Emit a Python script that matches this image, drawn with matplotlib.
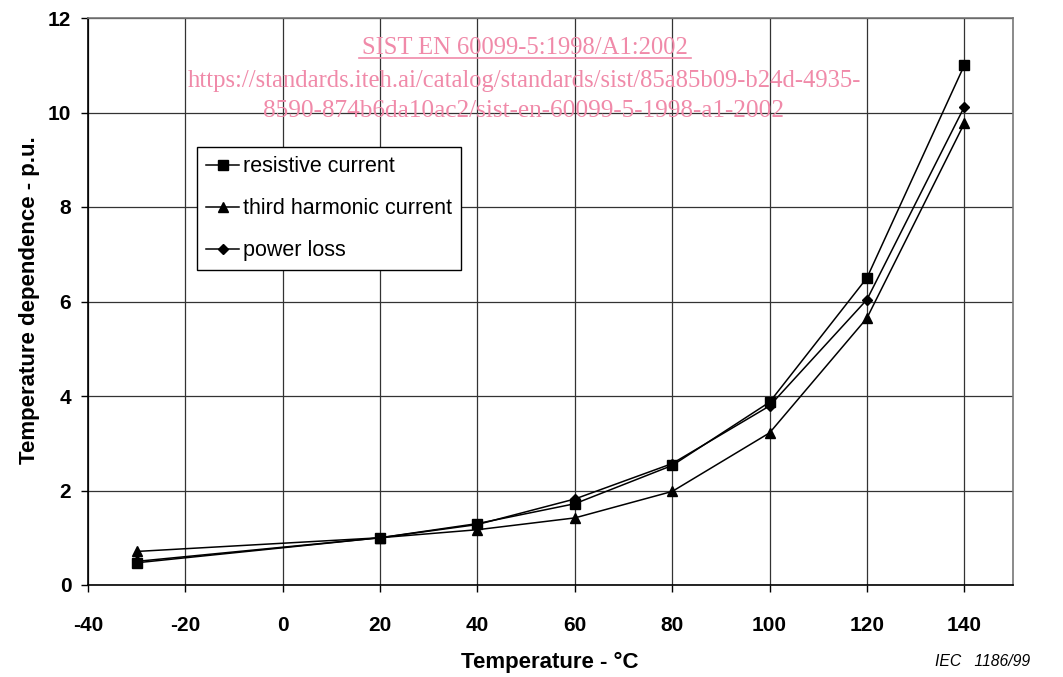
import matplotlib
matplotlib.use("Agg")
import matplotlib.pyplot as plt

temps = [-30, 20, 40, 60, 80, 100, 120, 140]
resistive = [0.47, 1.0, 1.30, 1.72, 2.53, 3.87, 6.50, 11.00]
third_harm = [0.71, 1.0, 1.17, 1.42, 1.98, 3.22, 5.65, 9.77]
power_loss = [0.50, 1.0, 1.28, 1.82, 2.57, 3.79, 6.04, 10.12]

x_ticks = [-40, -20, 0, 20, 40, 60, 80, 100, 120, 140]
y_ticks = [0, 2, 4, 6, 8, 10, 12]

plt.rcParams['font.family'] = ['Liberation Sans', 'DejaVu Sans']
plt.rcParams['axes.unicode_minus'] = False

W, H = 1063, 677
fig = plt.figure(figsize=(W/100, H/100), dpi=100)
ax = fig.add_axes([88/W, 92/H, (1013-88)/W, (585-18)/H])

ax.plot(temps, resistive, color='black', lw=1.1, marker='s', ms=6.5, label='resistive current', zorder=3)
ax.plot(temps, third_harm, color='black', lw=1.1, marker='^', ms=7, label='third harmonic current', zorder=3)
ax.plot(temps, power_loss, color='black', lw=1.1, marker='D', ms=5, label='power loss', zorder=3)

ax.set_xlim(-40, 150)
ax.set_ylim(0, 12)
ax.set_xticks(x_ticks)
ax.set_yticks(y_ticks)
ax.grid(True, color='#333333', lw=0.9, zorder=0)
for s in ax.spines.values():
    s.set_color('#777777')
    s.set_linewidth(1.2)
ax.spines['left'].set_color('black')
ax.spines['bottom'].set_color('black')
ax.tick_params(direction='out', length=5, width=1, colors='black', labelsize=15)
ax.tick_params(axis='x', pad=17)
ax.tick_params(axis='y', pad=7)
for lab in ax.get_xticklabels() + ax.get_yticklabels():
    lab.set_fontweight('bold')

ax.set_xlabel('Temperature - °C', fontsize=16, fontweight='bold')
ax.set_ylabel('Temperature dependence - p.u.', fontsize=16, fontweight='bold')
ax.xaxis.set_label_coords((550-88)/925, (585-662)/567)
ax.xaxis.label.set_va('center')
ax.yaxis.set_label_coords((30-88)/925, (585-300)/567)
ax.yaxis.label.set_va('center')

leg = ax.legend(loc='upper left', bbox_to_anchor=((197-88)/925, (585-147)/567),
                fontsize=15.5, frameon=True, fancybox=False, edgecolor='black',
                framealpha=1, handlelength=1.55, handletextpad=0.15, labelspacing=0.98,
                borderpad=0.42, borderaxespad=0)
leg.get_frame().set_linewidth(1.0)

wm = '#f08aa9'
fig.text(525/W, 1-54/H, 'SIST EN 60099-5:1998/A1:2002', ha='center', va='baseline',
         fontsize=17.7, color=wm, family='Liberation Serif')
fig.add_artist(plt.Line2D([359/W, 691/W], [1-57.5/H, 1-57.5/H], color=wm, lw=1.2))
fig.text(524/W, 1-87/H, 'https://standards.iteh.ai/catalog/standards/sist/85a85b09-b24d-4935-',
         ha='center', va='baseline', fontsize=17.7, color=wm, family='Liberation Serif')
fig.text(524/W, 1-117/H, '8590-874b6da10ac2/sist-en-60099-5-1998-a1-2002',
         ha='center', va='baseline', fontsize=18.2, color=wm, family='Liberation Serif')

fig.text(1030/W, 1-662/H, 'IEC   1186/99', ha='right', va='center', fontsize=11.3,
         style='italic', color='black')

fig.savefig('out.png', dpi=100)
